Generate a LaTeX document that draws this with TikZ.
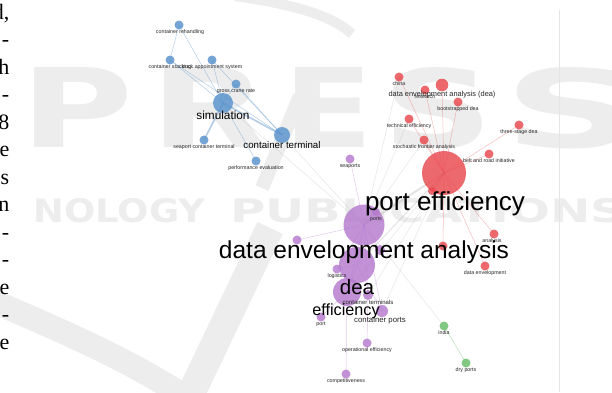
\documentclass[tikz,border=0pt]{standalone}
\usepackage{fontspec}
\usepackage{graphicx}
\setmainfont{Liberation Serif}
\newfontfamily\vosfont{Liberation Sans}
\newfontfamily\wmfont{DejaVu Sans}
\definecolor{vblue}{RGB}{88,146,204}
\definecolor{vred}{RGB}{233,72,78}
\definecolor{vpurple}{RGB}{181,122,206}
\definecolor{vgreen}{RGB}{104,190,104}
\definecolor{wmgray}{gray}{0.93}
\pgfdeclarelayer{wm}
\pgfdeclarelayer{edges}
\pgfsetlayers{wm,edges,main}
\tikzset{
  vdot/.style={circle, inner sep=0pt, minimum size=2*#1, fill opacity=0.82, draw=none},
  bdot/.style={vdot=#1, fill=vblue}, bdot/.default=4.5,
  rdot/.style={vdot=#1, fill=vred}, rdot/.default=4.5,
  pdot/.style={vdot=#1, fill=vpurple}, pdot/.default=4.5,
  gdot/.style={vdot=#1, fill=vgreen}, gdot/.default=4.5,
  lab/.style={inner sep=0pt, anchor=base, text=black!85, font=\vosfont\fontsize{#1}{#1}\selectfont}, lab/.default=5.3,
  big/.style={inner sep=0pt, anchor=base, text=black, font=\vosfont\fontsize{#1}{#1}\selectfont},
  bedge/.style={draw=vblue, draw opacity=0.45, line width=0.5pt},
  redge/.style={draw=vred, draw opacity=0.35, line width=0.5pt},
  pedge/.style={draw=vpurple, draw opacity=0.4, line width=0.5pt},
  gedge/.style={draw=vgreen, draw opacity=0.45, line width=0.5pt},
  xedge/.style={draw=black!35, draw opacity=0.3, line width=0.45pt},
  wmtext/.style={inner sep=0pt, anchor=base west, text=wmgray, font=\wmfont\bfseries},
  wmband/.style={draw=wmgray, line cap=butt},
  col/.style={inner sep=0pt, anchor=base east, font=\fontsize{22}{27.5}\selectfont}
}
\begin{document}
\begin{tikzpicture}[x=1pt,y=-1pt]
\useasboundingbox (0,0) rectangle (612,392);

% page background and publisher watermark
\begin{pgfonlayer}{wm}
\fill[white] (0,0) rectangle (612,392);
\node[wmtext] (wP) at (20,147) {\resizebox{113pt}{80pt}{P}};
\node[wmtext] (wR) at (150,147) {\resizebox{118pt}{80pt}{R}};
\node[wmtext] (wE) at (283,147) {\resizebox{90pt}{80pt}{E}};
\node[wmtext] (wS1) at (382,147) {\resizebox{111pt}{80pt}{S}};
\node[wmtext] (wS2) at (503,147) {\resizebox{137pt}{80pt}{S}};
\node[wmtext] (wN) at (33,222) {\resizebox{172pt}{24pt}{NOLOGY}};
\node[wmtext] (wPub) at (230,222) {\resizebox{395pt}{24pt}{PUBLICATIONS}};
\draw[wmband, line width=10pt] (235,-4) .. controls (290,4) and (330,14) .. (352,34);
\draw[wmband, line width=14pt] (300,96) -- (262,188);
\draw[wmband, line width=28pt] (270,228) -- (188,400);
\draw[wmband, line width=24pt] (-10,300) .. controls (60,330) and (130,360) .. (190,400);
\draw[black!10, line width=0.6pt] (559,10) -- (559,392);
\end{pgfonlayer}

% text column cut by the page edge
\foreach \t [count=\i from 0] in {{d,},-,h,-,8,e,s,n,-,-,e,-,e}
  \node[col] (col\i) at ({9.5},{19+27.5*\i}) {\t};

% ---- term circles ----
% simulation cluster
\node[bdot] (crh) at (179,25) {};
\node[bdot] (cst) at (170,60) {};
\node[bdot] (tas) at (212,60) {};
\node[bdot] (gcr) at (236,84) {};
\node[bdot=10] (sim) at (223,103) {};
\node[bdot=8] (ctm) at (282,135) {};
\node[bdot] (sct) at (204,140) {};
\node[bdot] (pev) at (256,161) {};
% dea cluster
\node[pdot] (seap) at (350,159) {};
\node[pdot=20.5] (dea1) at (364,225) {};
\node[pdot=4] (ports) at (376,212) {};
\node[pdot] (ph1) at (297,240) {};
\node[pdot=5] (ph2) at (380,250) {};
\node[pdot=18] (dea2) at (357,265) {};
\node[pdot=14] (eff) at (347,292) {};
\node[pdot] (log) at (337,269) {};
\node[pdot=5] (ctms) at (368,295) {};
\node[pdot=6] (cpo) at (382,311) {};
\node[pdot] (port) at (321,317) {};
\node[pdot] (ope) at (367,343) {};
\node[pdot] (com) at (346,374) {};
% port efficiency cluster
\node[rdot] (chi) at (399,77) {};
\node[rdot=6.3] (dead) at (442,85) {};
\node[rdot] (res) at (425,90) {};
\node[rdot] (bdea) at (458,102) {};
\node[rdot] (tef) at (409,119) {};
\node[rdot] (tsd) at (519,125) {};
\node[rdot] (sfa) at (424,140) {};
\node[rdot] (bri) at (489,154) {};
\node[rdot=22] (pef) at (444,173) {};
\node[rdot=4] (rh1) at (432,191) {};
\node[rdot] (ana) at (494,234) {};
\node[rdot] (rh2) at (443,246) {};
\node[rdot] (den) at (485,266) {};
% dry port cluster
\node[gdot] (ind) at (444,326) {};
\node[gdot] (dry) at (466,363) {};

% ---- links ----
\begin{pgfonlayer}{edges}
\draw[bedge] (crh.center) -- (cst.center);
\foreach \t in {crh,cst,tas,gcr,pev}
  \draw[bedge] (sim.center) -- (\t.center);
\foreach \t in {cst,tas,gcr}
  \draw[bedge] (ctm.center) -- (\t.center);
\draw[bedge, line width=1.6pt] (sim.center) -- (ctm.center);
\draw[bedge, line width=1.6pt] (sim.center) -- (sct.center);
\draw[xedge] (sim.center) -- (dea1.center);
\draw[xedge] (ctm.center) -- (dea1.center);
\foreach \t in {chi,res,dead,bdea,tef,sfa,tsd,bri,ana,den,rh1,rh2}
  \draw[redge] (pef.center) -- (\t.center);
\draw[xedge] (dea1.center) -- (tef.center);
\draw[xedge] (dea1.center) -- (sfa.center);
\draw[xedge] (dea1.center) -- (chi.center);
\foreach \t in {seap,ph1,ports,dea2,eff,log,ctms,cpo,ph2}
  \draw[pedge] (dea1.center) -- (\t.center);
\draw[pedge] (dea2.center) -- (eff.center);
\draw[pedge] (dea2.center) -- (log.center);
\draw[pedge] (dea2.center) -- (cpo.center);
\draw[pedge] (eff.center) -- (port.center);
\draw[pedge] (eff.center) -- (com.center);
\draw[pedge] (ctms.center) -- (ope.center);
\draw[xedge, line width=2pt] (pef.center) -- (dea1.center);
\draw[xedge, line width=1pt] (pef.center) -- (dea2.center);
\foreach \t in {eff,cpo,ctms}
  \draw[xedge] (pef.center) -- (\t.center);
\draw[xedge] (ind.center) -- (dea1.center);
\draw[gedge] (ind.center) -- (dry.center);
\end{pgfonlayer}

% ---- labels ----
\node[lab] (crh-l) at (180,33) {container rehandling};
\node[lab] (cst-l) at (170,68) {container stacking};
\node[lab] (tas-l) at (212,68) {truck appointment system};
\node[lab] (gcr-l) at (236,92) {gross crane rate};
\node[big=11.8] (sim-l) at (223,119.5) {simulation};
\node[big=9.7] (ctm-l) at (282,148.7) {container terminal};
\node[lab] (sct-l) at (204,148) {seaport container terminal};
\node[lab] (pev-l) at (256,169) {performance evaluation};

\node[lab] (seap-l) at (350,167) {seaports};
\node[lab] (ports-l) at (376,220.5) {ports};
\node[lab] (log-l) at (337,277) {logistics};
\node[lab=6] (ctms-l) at (368,304) {container terminals};
\node[lab=7.8] (cpo-l) at (380,322) {container ports};
\node[lab] (port-l) at (321,325) {port};
\node[lab] (ope-l) at (367,351) {operational efficiency};
\node[lab] (com-l) at (346,382) {competitiveness};

\node[lab] (chi-l) at (399,85) {china};
\node[lab] (res-l) at (425,98) {research};
\node[lab=7.4] (dead-l) at (442,96) {data envelopment analysis (dea)};
\node[lab] (bdea-l) at (458,110) {bootstrapped dea};
\node[lab] (tef-l) at (409,127) {technical efficiency};
\node[lab] (tsd-l) at (519,133) {three-stage dea};
\node[lab] (sfa-l) at (424,148) {stochastic frontier analysis};
\node[lab] (bri-l) at (489,162) {belt and road initiative};
\node[lab] (ana-l) at (492,242) {analysis};
\node[lab] (den-l) at (485,274) {data envelopment};

\node[lab] (ind-l) at (444,334) {india};
\node[lab] (dry-l) at (466,371) {dry ports};

\node[big=26] (pef-l) at (445,210) {port efficiency};
\node[big=24.5] (dea1-l) at (364,258) {data envelopment analysis};
\node[big=20.6] (dea2-l) at (357,294) {dea};
\node[big=16.2] (eff-l) at (346,315) {efficiency};
\end{tikzpicture}
\end{document}
